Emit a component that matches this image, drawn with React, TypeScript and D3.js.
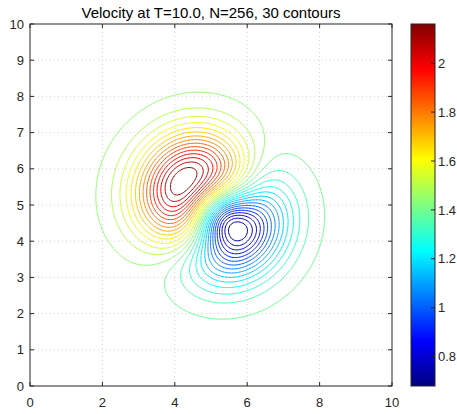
import React, { useMemo } from "react";
import * as d3 from "d3";

// Axis ticks
const xTicks = [0, 2, 4, 6, 8, 10];
const yTicks = [0, 1, 2, 3, 4, 5, 6, 7, 8, 9, 10];
const colorTicks = [0.8, 1, 1.2, 1.4, 1.6, 1.8, 2];

// Colour limits (field minimum / maximum) and number of contour levels
const colorRange = [0.68, 2.16];
const levelCount = 30;

// Flow: uniform stream plus a clockwise Gaussian vortex; the plotted
// quantity is the speed |u|.
const streamSpeed = [1.42];
const streamAngleDeg = [47.3];
const vortexCenter = [4.98, 4.98];
const vortexCoreRadius = [1.02]; // radius of peak swirl speed
const vortexPeakSpeed = [0.74];

const gridSize = 256;
const domain = [0, 10];

function jet(t: number): string {
  const cl = (v: number) => Math.max(0, Math.min(1, v));
  const r = cl(1.5 - Math.abs(4 * t - 3));
  const g = cl(1.5 - Math.abs(4 * t - 2));
  const b = cl(1.5 - Math.abs(4 * t - 1));
  return d3.rgb(r * 255, g * 255, b * 255).formatHex();
}

function speed(px: number, py: number): number {
  const th = (streamAngleDeg[0] * Math.PI) / 180;
  let ux = streamSpeed[0] * Math.cos(th);
  let uy = streamSpeed[0] * Math.sin(th);
  const dx = px - vortexCenter[0];
  const dy = py - vortexCenter[1];
  const r = Math.hypot(dx, dy);
  if (r > 1e-9) {
    const q = r / vortexCoreRadius[0];
    const vt = vortexPeakSpeed[0] * q * Math.exp((1 - q * q) / 2);
    // clockwise azimuthal direction
    ux += (vt * dy) / r;
    uy += (-vt * dx) / r;
  }
  return Math.hypot(ux, uy);
}

const W = 457;
const H = 414;
const plot = { left: 30, right: 392, top: 24, bottom: 386 };
const bar = { left: 411, right: 435 };
const FONT = "'Liberation Sans', Arial, Helvetica, sans-serif";
const AXIS = "#262626";

export default function App() {
  const x = d3.scaleLinear().domain(domain).range([plot.left, plot.right]);
  const y = d3.scaleLinear().domain(domain).range([plot.bottom, plot.top]);
  const c = d3.scaleLinear().domain(colorRange).range([plot.bottom, plot.top]);

  const contours = useMemo(() => {
    const n = gridSize;
    const h = (domain[1] - domain[0]) / (n - 1);
    const vals = new Float64Array(n * n);
    for (let j = 0; j < n; j++) {
      for (let i = 0; i < n; i++) {
        vals[j * n + i] = speed(domain[0] + i * h, domain[0] + j * h);
      }
    }
    const neg = vals.map((v) => -v);
    const levels = d3
      .range(1, levelCount + 1)
      .map((k) => colorRange[0] + (k * (colorRange[1] - colorRange[0])) / (levelCount + 1));
    const proj = d3.geoTransform({
      point(gx: number, gy: number) {
        (this as any).stream.point(x(domain[0] + (gx - 0.5) * h), y(domain[0] + (gy - 0.5) * h));
      },
    });
    const path = d3.geoPath(proj);
    const gen = d3.contours().size([n, n]);
    return levels.map((lv) => {
      // contour the side that stays closed inside the domain
      const geom = lv >= streamSpeed[0] ? gen.contour(vals as any, lv) : gen.contour(neg as any, -lv);
      return {
        d: path(geom as any) || "",
        color: jet((lv - colorRange[0]) / (colorRange[1] - colorRange[0])),
      };
    });
  }, []);

  const jetStops = [0, 0.125, 0.375, 0.625, 0.875, 1];

  return (
    <svg
      width={W}
      height={H}
      style={{ position: "absolute", left: 0, top: 0, background: "#fff" }}
      fontFamily={FONT}
    >
      <defs>
        <linearGradient id="jetbar" x1="0" y1="1" x2="0" y2="0">
          {jetStops.map((t) => (
            <stop key={t} offset={t} stopColor={jet(t)} />
          ))}
        </linearGradient>
        <clipPath id="plotclip">
          <rect x={plot.left} y={plot.top} width={plot.right - plot.left} height={plot.bottom - plot.top} />
        </clipPath>
      </defs>

      {/* grid */}
      <g stroke="#d4d4d4" strokeWidth={1} strokeDasharray="1 3">
        {xTicks.slice(1, -1).map((t) => (
          <line key={"gx" + t} x1={x(t)} x2={x(t)} y1={plot.top} y2={plot.bottom} />
        ))}
        {yTicks.slice(1, -1).map((t) => (
          <line key={"gy" + t} x1={plot.left} x2={plot.right} y1={y(t)} y2={y(t)} />
        ))}
      </g>

      {/* contour lines */}
      <g fill="none" strokeWidth={1} clipPath="url(#plotclip)">
        {contours.map((ct, i) => (
          <path key={i} d={ct.d} stroke={ct.color} />
        ))}
      </g>

      {/* axes box and ticks */}
      <rect
        x={plot.left}
        y={plot.top}
        width={plot.right - plot.left}
        height={plot.bottom - plot.top}
        fill="none"
        stroke={AXIS}
        strokeWidth={1}
      />
      <g stroke={AXIS} strokeWidth={1}>
        {xTicks.map((t) => (
          <g key={"tx" + t}>
            <line x1={x(t)} x2={x(t)} y1={plot.bottom} y2={plot.bottom - 4} />
            <line x1={x(t)} x2={x(t)} y1={plot.top} y2={plot.top + 4} />
          </g>
        ))}
        {yTicks.map((t) => (
          <g key={"ty" + t}>
            <line x1={plot.left} x2={plot.left + 4} y1={y(t)} y2={y(t)} />
            <line x1={plot.right} x2={plot.right - 4} y1={y(t)} y2={y(t)} />
          </g>
        ))}
      </g>
      <g fill={AXIS} fontSize={13}>
        {xTicks.map((t) => (
          <text key={"lx" + t} x={x(t)} y={plot.bottom + 21} textAnchor="middle">
            {t}
          </text>
        ))}
        {yTicks.map((t) => (
          <text key={"ly" + t} x={plot.left - 6} y={y(t)} dy="0.36em" textAnchor="end">
            {t}
          </text>
        ))}
      </g>

      {/* title */}
      <text x={(plot.left + plot.right) / 2} y={18} textAnchor="middle" fontSize={15} fill="#000">
        Velocity at T=10.0, N=256, 30 contours
      </text>

      {/* colorbar */}
      <rect
        x={bar.left}
        y={plot.top}
        width={bar.right - bar.left}
        height={plot.bottom - plot.top}
        fill="url(#jetbar)"
        stroke={AXIS}
        strokeWidth={1}
      />
      <g stroke={AXIS} strokeWidth={1}>
        {colorTicks.map((t) => (
          <line key={"ct" + t} x1={bar.right} x2={bar.right - 4} y1={c(t)} y2={c(t)} />
        ))}
      </g>
      <g fill={AXIS} fontSize={13}>
        {colorTicks.map((t) => (
          <text key={"cl" + t} x={bar.right + 3} y={c(t)} dy="0.36em">
            {t}
          </text>
        ))}
      </g>
    </svg>
  );
}
